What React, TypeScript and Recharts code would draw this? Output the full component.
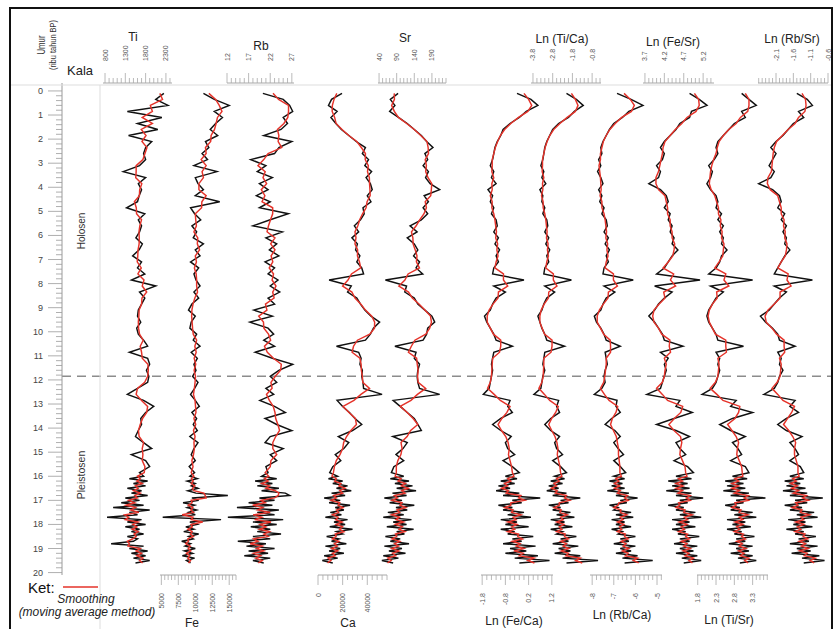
import { LineChart, Line, XAxis, YAxis, ReferenceLine } from "recharts"

const W = 835
const H = 629
const PLOT_TOP = 83
const PLOT_BOTTOM = 575
const AGE_DOMAIN: [number, number] = [-0.33, 20.1]
const BOUNDARY = 11.85
const FONT = "'Liberation Sans', Arial, Helvetica, sans-serif"

// umur (ribu tahun BP)
const AGES = [
  0.1, 0.35, 0.6, 0.85, 1.1, 1.35, 1.6, 1.85,
  2.1, 2.35, 2.6, 2.85, 3.1, 3.35, 3.6, 3.85,
  4.1, 4.35, 4.6, 4.85, 5.1, 5.35, 5.6, 5.85,
  6.1, 6.35, 6.6, 6.85, 7.1, 7.35, 7.6, 7.85,
  8.1, 8.35, 8.6, 8.85, 9.1, 9.35, 9.6, 9.85,
  10.1, 10.35, 10.6, 10.85, 11.1, 11.35, 11.6, 11.85,
  12.1, 12.35, 12.6, 12.85, 13.1, 13.35, 13.6, 13.85,
  14.1, 14.35, 14.6, 14.85, 15.1, 15.35, 15.6, 15.85,
  16.0, 16.1, 16.2, 16.3, 16.4, 16.5, 16.6, 16.7, 16.8, 16.9,
  17.0, 17.1, 17.2, 17.3, 17.4, 17.5, 17.6, 17.7, 17.8, 17.9,
  18.0, 18.1, 18.2, 18.3, 18.4, 18.5, 18.6, 18.7, 18.8, 18.9,
  19.0, 19.1, 19.2, 19.3, 19.4, 19.5, 19.6,
]

const TI = [
  2250, 2050, 2350, 1350, 2200, 1600, 2100, 1380,
  1950, 1800, 1750, 1800, 1650, 1250, 1800, 1620,
  1700, 1640, 1600, 1330, 1780, 1620, 1700, 1650,
  1560, 1720, 1640, 1480, 1700, 1600, 1780, 1450,
  2050, 1650, 1780, 1700, 1620, 1600, 1680, 1580,
  1620, 1750, 1850, 1400, 1850, 1900, 1820, 1880,
  1850, 1600, 1350, 1750, 2000, 1800, 1680, 1700,
  1620, 1550, 1750, 1950, 1450, 1800, 1900, 1650,
  1750, 1400, 1850, 1500, 1800, 1350, 1700, 1450, 1850, 1300,
  1650, 1200, 1750, 1000, 1900, 1400, 1600, 850, 1700, 1350,
  1800, 1300, 1650, 1450, 1750, 1350, 1600, 1500, 950, 1750,
  1400, 1850, 1450, 1800, 1500, 1900, 1550,
]

const FE = [
  11200, 12800, 15000, 12800, 14000, 13000, 12200, 13300,
  11500, 12000, 11000, 11800, 9800, 13200, 10000, 10400,
  11200, 10000, 13600, 9300, 9900, 10800, 9500, 10200,
  9700, 11200, 10000, 10700, 9300, 10500, 9800, 10100,
  10700, 9800, 10500, 9500, 9000, 10000, 9400, 9200,
  10200, 9700, 10700, 9400, 10300, 9800, 10100, 9600,
  10400, 9900, 9300, 10000, 10600, 9500, 10200, 9700,
  10300, 9200, 10400, 9800, 9400, 10000, 9100, 9900,
  9200, 10300, 8800, 10000, 9400, 10400, 8900, 10100, 14800, 9500,
  10500, 8200, 9900, 8800, 10200, 9000, 10000, 5200, 13800, 9200,
  10300, 8600, 9800, 8300, 10500, 9000, 9700, 8000, 9300, 8500,
  10000, 8400, 9600, 8100, 9900, 8700, 9300,
]

const RB = [
  20.3, 25.0, 26.5, 27.2, 25.0, 26.0, 24.5, 20.5,
  27.0, 24.0, 23.0, 17.5, 21.0, 19.0, 22.5, 19.5,
  21.5, 18.8, 22.0, 19.5, 26.2, 22.0, 18.0, 24.8,
  21.0, 23.5, 21.8, 24.0, 20.8, 23.0, 21.5, 23.8,
  22.0, 24.2, 21.5, 23.0, 18.2, 22.5, 17.3, 21.5,
  22.8, 20.5, 23.0, 18.5, 22.5, 27.2, 24.0, 22.0,
  23.5, 21.0, 22.8, 19.6, 23.0, 25.5, 20.8, 23.5,
  27.0, 22.0, 20.8, 25.0, 22.0, 23.5, 21.0, 21.5,
  20.0, 23.5, 18.5, 22.5, 19.0, 24.0, 20.0, 25.5, 26.5, 19.5,
  23.0, 17.0, 22.5, 14.3, 24.0, 19.0, 23.0, 12.2, 25.0, 18.0,
  23.5, 17.5, 22.0, 19.0, 24.5, 18.0, 22.0, 14.5, 21.0, 16.5,
  23.0, 17.0, 21.5, 16.0, 22.0, 18.0, 20.5,
]

const CA = [
  19500, 11000, 8500, 15500, 10500, 14500, 19000, 25000,
  31000, 38500, 36000, 41000, 38000, 43500, 39000, 42500,
  44000, 40000, 43000, 36500, 37500, 34500, 29500, 33000,
  27500, 32000, 30500, 34000, 31500, 35500, 37000, 9000,
  27000, 24000, 31500, 34500, 38000, 43000, 50000, 45000,
  42500, 38500, 15000, 33000, 35000, 34000, 36000, 35500,
  36500, 37000, 52000, 15500, 20000, 25500, 30000, 35500,
  28000, 16500, 25000, 21000, 14000, 18500, 12000, 9500,
  16000, 8500, 20000, 12000, 24000, 15000, 27000, 11000, 22000, 5000,
  18000, 9000, 26000, 14000, 21000, 10000, 19000, 6000, 24000, 13000,
  22000, 9500, 28000, 15000, 20000, 7000, 17000, 11000, 23000, 6000,
  18000, 9000, 21000, 5000, 16000, 3500, 12000,
]

const SR = [
  94, 72, 85, 70, 95, 120, 140, 160,
  175, 193, 170, 178, 165, 180, 172, 185,
  212, 168, 180, 165, 178, 160, 128, 148,
  120, 140, 150, 138, 155, 145, 164, 58,
  118, 113, 140, 150, 170, 190, 198, 178,
  175, 165, 85, 145, 140, 155, 150, 148,
  150, 155, 212, 80, 100, 120, 140, 150,
  160, 79, 120, 108, 88, 110, 82, 75,
  110, 72, 125, 85, 135, 90, 145, 78, 118, 55,
  105, 70, 140, 88, 120, 65, 110, 52, 132, 80,
  118, 62, 138, 90, 112, 58, 100, 72, 125, 55,
  105, 68, 115, 52, 95, 48, 80,
]

const LN_FE_CA = [
  -0.3, 0.3, 0.6, 0.1, -0.2, -0.6, -0.9, -1.0,
  -1.15, -1.25, -1.3, -1.35, -1.45, -1.3, -1.4, -1.2,
  -1.55, -1.35, -1.45, -1.3, -1.4, -1.2, -1.15, -1.3,
  -1.1, -1.25, -1.05, -1.2, -1.1, -1.3, -1.35, 0.0,
  -1.3, -0.8, -1.2, -1.35, -1.45, -1.7, -1.6, -1.45,
  -1.3, -1.2, -0.5, -1.3, -1.35, -1.4, -1.35, -1.4,
  -1.45, -1.5, -1.75, -0.6, -0.7, -0.5, -1.0, -1.35,
  -1.0, -0.55, -0.8, -0.7, -0.4, -0.9, -0.5, -0.2,
  -0.8, -0.3, -1.0, -0.4, -1.1, -0.6, -1.2, -0.2, -0.9, 0.7,
  -0.5, -0.1, -1.1, -0.5, -0.9, 0.0, -0.7, 0.3, -1.0, -0.3,
  -0.8, 0.2, -1.0, -0.4, -0.7, 0.4, -0.5, -0.1, -0.9, 0.5,
  -0.6, 0.1, -0.8, 0.6, -0.4, 1.1, -0.2,
]

const LN_TI_CA = [
  -2.1, -1.6, -1.25, -1.7, -2.0, -2.5, -2.8, -2.95,
  -3.1, -3.2, -3.25, -3.3, -3.4, -3.25, -3.35, -3.15,
  -3.45, -3.3, -3.35, -3.2, -3.3, -3.1, -3.05, -3.2,
  -3.0, -3.15, -2.95, -3.1, -3.0, -3.2, -3.25, -1.85,
  -3.2, -2.7, -3.1, -3.25, -3.35, -3.55, -3.45, -3.35,
  -3.2, -3.1, -2.2, -3.2, -3.25, -3.3, -3.2, -3.3,
  -3.35, -3.4, -3.75, -2.5, -2.6, -2.45, -2.9, -3.2,
  -2.9, -2.45, -2.7, -2.6, -2.3, -2.8, -2.4, -2.1,
  -2.7, -2.2, -2.9, -2.3, -3.0, -2.5, -3.1, -2.1, -2.8, -1.4,
  -2.4, -2.0, -3.0, -2.4, -2.8, -1.9, -2.6, -1.7, -2.9, -2.2,
  -2.7, -1.8, -2.9, -2.3, -2.6, -1.6, -2.4, -2.0, -2.8, -1.5,
  -2.5, -1.9, -2.7, -1.4, -2.3, -0.5, -2.1,
]

const LN_RB_CA = [
  -6.85, -6.2, -5.65, -6.3, -6.6, -7.0, -7.2, -7.35,
  -7.5, -7.6, -7.55, -7.7, -7.6, -7.75, -7.6, -7.5,
  -7.7, -7.55, -7.65, -7.45, -7.55, -7.35, -7.3, -7.45,
  -7.25, -7.4, -7.2, -7.35, -7.25, -7.45, -7.5, -6.1,
  -7.45, -6.95, -7.35, -7.5, -7.6, -7.9, -7.8, -7.6,
  -7.45, -7.35, -6.7, -7.4, -7.35, -7.3, -7.4, -7.45,
  -7.4, -7.55, -7.9, -6.85, -6.9, -6.7, -7.1, -7.4,
  -6.95, -6.7, -7.0, -6.8, -6.55, -7.0, -6.7, -6.45,
  -7.0, -6.5, -7.2, -6.6, -7.1, -6.5, -7.3, -6.3, -6.9, -5.9,
  -6.7, -6.4, -7.2, -6.8, -7.0, -6.2, -6.9, -6.1, -7.1, -6.5,
  -6.9, -6.2, -7.1, -6.6, -6.8, -6.0, -6.7, -6.3, -7.0, -6.0,
  -6.7, -6.2, -6.9, -5.9, -6.6, -5.2, -6.5,
]

const LN_FE_SR = [
  4.85, 5.1, 5.3, 4.9, 4.85, 4.6, 4.5, 4.35,
  4.2, 4.1, 4.2, 4.15, 4.0, 4.1, 4.05, 3.8,
  4.1, 4.25, 4.3, 4.2, 4.35, 4.3, 4.4, 4.35,
  4.45, 4.4, 4.55, 4.4, 4.3, 4.2, 4.0, 5.12,
  3.95, 4.4, 4.2, 4.05, 3.95, 3.8, 3.95, 4.05,
  4.15, 4.2, 4.68, 4.1, 4.3, 4.2, 4.25, 4.2,
  4.15, 4.1, 3.75, 4.6, 4.5, 4.92, 4.45, 4.0,
  4.5, 4.85, 4.5, 4.6, 4.75, 4.45, 4.8, 4.95,
  4.5, 4.9, 4.3, 4.8, 4.4, 4.85, 4.25, 4.9, 4.5, 5.2,
  4.6, 4.8, 4.3, 4.7, 4.5, 5.0, 4.6, 5.15, 4.4, 4.85,
  4.5, 5.0, 4.4, 4.75, 4.55, 5.1, 4.6, 4.85, 4.45, 5.05,
  4.6, 4.95, 4.5, 5.05, 4.65, 5.15, 4.7,
]

const LN_TI_SR = [
  3.0, 3.2, 3.4, 3.0, 3.1, 2.8, 2.65, 2.5,
  2.35, 2.3, 2.35, 2.25, 2.1, 2.2, 2.15, 2.05,
  2.15, 2.3, 2.35, 2.3, 2.45, 2.35, 2.5, 2.4,
  2.5, 2.45, 2.6, 2.45, 2.4, 2.3, 2.1, 3.3,
  2.15, 2.5, 2.3, 2.2, 2.1, 2.05, 2.1, 2.2,
  2.3, 2.35, 3.05, 2.3, 2.4, 2.35, 2.4, 2.35,
  2.3, 2.2, 1.92, 2.85, 2.7, 3.3, 2.75, 2.4,
  2.7, 3.1, 2.75, 2.9, 3.0, 2.7, 3.1, 3.2,
  2.75, 3.15, 2.55, 3.05, 2.6, 3.1, 2.5, 3.2, 2.7, 3.65,
  2.85, 3.05, 2.55, 2.95, 2.7, 3.3, 2.8, 3.4, 2.6, 3.1,
  2.75, 3.25, 2.6, 3.0, 2.8, 3.35, 2.85, 3.1, 2.65, 3.3,
  2.85, 3.2, 2.7, 3.3, 2.9, 3.4, 2.95,
]

const LN_RB_SR = [
  -1.5, -1.2, -1.05, -1.45, -1.3, -1.6, -1.75, -1.9,
  -2.1, -2.25, -2.1, -2.2, -2.3, -2.15, -2.25, -2.6,
  -2.2, -2.0, -1.95, -2.05, -1.85, -1.95, -1.8, -1.9,
  -1.8, -1.85, -1.7, -1.85, -1.95, -2.05, -2.15, -1.05,
  -2.15, -1.8, -2.0, -2.15, -2.3, -2.55, -2.4, -2.2,
  -2.05, -2.0, -1.55, -2.05, -1.95, -2.0, -1.9, -2.0,
  -2.05, -2.15, -2.45, -1.55, -1.7, -1.45, -1.8, -2.05,
  -1.8, -1.35, -1.7, -1.55, -1.45, -1.7, -1.4, -1.3,
  -1.7, -1.3, -1.85, -1.4, -1.8, -1.25, -1.9, -1.2, -1.7, -0.75,
  -1.55, -1.2, -1.85, -1.35, -1.7, -1.0, -1.5, -0.9, -1.75, -1.25,
  -1.6, -1.05, -1.8, -1.3, -1.55, -0.95, -1.45, -1.15, -1.7, -0.9,
  -1.5, -1.1, -1.65, -0.85, -1.35, -0.7, -1.3,
]

const range = (start: number, stop: number, step: number) => {
  const out: number[] = []
  const n = Math.round((stop - start) / step)
  for (let i = 0; i <= n; i++) out.push(+(start + i * step).toFixed(4))
  return out
}

// moving average, same as the red "smoothing" curve
const smooth = (vals: number[]) =>
  vals.map((_, i) => {
    const win = vals.slice(Math.max(0, i - 1), i + 2)
    return win.reduce((a, b) => a + b, 0) / win.length
  })

type Panel = {
  key: string
  values: number[]
  domain: [number, number]
  left: number
  right: number
  side: "top" | "bottom"
  ticks: number[]
  labels: number[]
}

const PANELS: Panel[] = [
  { key: "ti", values: TI, domain: [750, 2450], left: 103, right: 172, side: "top", ticks: range(800, 2400, 100), labels: [800, 1300, 1800, 2300] },
  { key: "fe", values: FE, domain: [4800, 16000], left: 160, right: 236, side: "bottom", ticks: range(5000, 16000, 500), labels: [5000, 7500, 10000, 12500, 15000] },
  { key: "rb", values: RB, domain: [12, 27.5], left: 227, right: 294, side: "top", ticks: range(12, 27, 1), labels: [12, 17, 22, 27] },
  { key: "ca", values: CA, domain: [0, 56000], left: 318, right: 387, side: "bottom", ticks: range(0, 56000, 4000), labels: [0, 20000, 40000] },
  { key: "sr", values: SR, domain: [37, 230], left: 378, right: 446, side: "top", ticks: range(40, 230, 10), labels: [40, 90, 140, 190] },
  { key: "feca", values: LN_FE_CA, domain: [-1.85, 1.25], left: 481, right: 553, side: "bottom", ticks: range(-1.8, 1.2, 0.2), labels: [-1.8, -0.8, 0.2, 1.2] },
  { key: "tica", values: LN_TI_CA, domain: [-3.9, -0.35], left: 531, right: 601, side: "top", ticks: range(-3.8, -0.4, 0.2), labels: [-3.8, -2.8, -1.8, -0.8] },
  { key: "rbca", values: LN_RB_CA, domain: [-8.1, -4.77], left: 590, right: 662, side: "bottom", ticks: range(-8, -4.8, 0.2), labels: [-8, -7, -6, -5] },
  { key: "fesr", values: LN_FE_SR, domain: [3.65, 5.48], left: 643, right: 714, side: "top", ticks: range(3.7, 5.4, 0.1), labels: [3.7, 4.2, 4.7, 5.2] },
  { key: "tisr", values: LN_TI_SR, domain: [1.78, 3.72], left: 697, right: 768, side: "bottom", ticks: range(1.8, 3.7, 0.1), labels: [1.8, 2.3, 2.8, 3.3] },
  { key: "rbsr", values: LN_RB_SR, domain: [-2.62, -0.6], left: 758, right: 828, side: "top", ticks: range(-2.6, -0.6, 0.1), labels: [-2.1, -1.6, -1.1, -0.6] },
]

const TITLES = [
  { text: "Ti", x: 133, y: 41 },
  { text: "Rb", x: 261, y: 50 },
  { text: "Sr", x: 405, y: 42 },
  { text: "Ln (Ti/Ca)", x: 562, y: 43 },
  { text: "Ln (Fe/Sr)", x: 673, y: 46 },
  { text: "Ln (Rb/Sr)", x: 792, y: 43 },
  { text: "Fe", x: 192, y: 627 },
  { text: "Ca", x: 348, y: 627 },
  { text: "Ln (Fe/Ca)", x: 514, y: 625 },
  { text: "Ln (Rb/Ca)", x: 622, y: 619 },
  { text: "Ln (Ti/Sr)", x: 729, y: 624 },
]

const AGE_TICKS = range(0, 20, 0.2)

const SMOOTHED: Record<string, number[]> = {}
PANELS.forEach((p) => (SMOOTHED[p.key] = smooth(p.values)))

const ROWS = AGES.map((age, i) => {
  const row: Record<string, number> = { age }
  PANELS.forEach((p) => {
    row[p.key] = p.values[i]
    row[p.key + "S"] = SMOOTHED[p.key][i]
  })
  return row
})

function ScaleTick({ x, y, payload, labels, side }: any) {
  const v = payload.value
  const major = labels.some((l: number) => Math.abs(l - v) < 1e-6)
  const dir = side === "top" ? -1 : 1
  const len = major ? 10 : 5
  return (
    <g>
      <line x1={x} x2={x} y1={y} y2={y + dir * len} stroke="#a8a8a8" strokeWidth={0.8} />
      {major && (
        <text
          transform={`translate(${x + 2.5},${side === "top" ? y - 22 : y + 18}) rotate(-90)`}
          textAnchor={side === "top" ? "start" : "end"}
          fontSize={7}
          fill="#555"
          fontFamily={FONT}
        >
          {String(v)}
        </text>
      )}
    </g>
  )
}

function AgeTick({ x, y, payload }: any) {
  const v = payload.value
  const major = Math.abs(v - Math.round(v)) < 1e-6
  return (
    <g>
      <line x1={x} x2={x - (major ? 14 : 6)} y1={y} y2={y} stroke="#9a9a9a" strokeWidth={0.8} />
      {major && (
        <text x={x - 19} y={y + 3} textAnchor="end" fontSize={9} fill="#444" fontFamily={FONT}>
          {Math.round(v)}
        </text>
      )}
    </g>
  )
}

const PAD = 8
const AXIS_H = 30

function ProxyPanel({ p }: { p: Panel }) {
  const top = p.side === "top"
  return (
    <div style={{ position: "absolute", left: p.left - PAD, top: 0 }}>
      <LineChart
        layout="vertical"
        width={p.right - p.left + 2 * PAD}
        height={H}
        data={ROWS}
        margin={{
          left: PAD,
          right: PAD,
          top: top ? PLOT_TOP - AXIS_H : PLOT_TOP,
          bottom: top ? H - PLOT_BOTTOM : H - PLOT_BOTTOM - AXIS_H,
        }}
      >
        <XAxis
          type="number"
          orientation={p.side}
          height={AXIS_H}
          domain={p.domain}
          ticks={p.ticks}
          interval={0}
          tickSize={0}
          tickMargin={0}
          tickLine={false}
          axisLine={{ stroke: "#a8a8a8" }}
          tick={(t: any) => <ScaleTick {...t} labels={p.labels} side={p.side} />}
        />
        <YAxis type="number" dataKey="age" domain={AGE_DOMAIN} hide />
        <Line dataKey={p.key} stroke="#111" strokeWidth={1.45} dot={false} isAnimationActive={false} />
        <Line dataKey={p.key + "S"} stroke="#e5332a" strokeWidth={1.45} dot={false} isAnimationActive={false} />
      </LineChart>
    </div>
  )
}

function AgeFrame() {
  return (
    <div style={{ position: "absolute", left: 0, top: 0 }}>
      <LineChart
        layout="vertical"
        width={W}
        height={H}
        data={ROWS}
        margin={{ left: 10, right: 2, top: PLOT_TOP, bottom: H - PLOT_BOTTOM }}
      >
        <XAxis type="number" hide />
        <YAxis
          type="number"
          dataKey="age"
          domain={AGE_DOMAIN}
          width={52}
          ticks={AGE_TICKS}
          interval={0}
          tickSize={0}
          tickMargin={0}
          tickLine={false}
          axisLine={{ stroke: "#9a9a9a" }}
          tick={(t: any) => <AgeTick {...t} />}
        />
        {/* carrier series so the frame has an x scale; drawn invisibly */}
        <Line dataKey="ti" stroke="transparent" dot={false} activeDot={false} isAnimationActive={false} />
        <ReferenceLine y={BOUNDARY} stroke="#8c8c8c" strokeWidth={1.6} strokeDasharray="9 6" />
      </LineChart>
    </div>
  )
}

export default function App() {
  return (
    <div
      style={{
        position: "absolute",
        left: 0,
        top: 0,
        width: W,
        height: H,
        overflow: "hidden",
        background: "#fff",
        fontFamily: FONT,
      }}
    >
      <AgeFrame />
      {PANELS.map((p) => (
        <ProxyPanel key={p.key} p={p} />
      ))}
      <svg width={W} height={H} style={{ position: "absolute", left: 0, top: 0, pointerEvents: "none" }} fontFamily={FONT}>
        <line x1={10} x2={833} y1={85} y2={85} stroke="#dddddd" strokeWidth={1} />
        <line x1={100} x2={100} y1={85} y2={H} stroke="#dddddd" strokeWidth={1} />
        <text
          transform="translate(45,45) rotate(-90)"
          textAnchor="middle"
          fontSize={10}
          textLength={19}
          lengthAdjust="spacingAndGlyphs"
          fill="#333"
        >
          Umur
        </text>
        <text
          transform="translate(56,45) rotate(-90)"
          textAnchor="middle"
          fontSize={8.5}
          textLength={50}
          lengthAdjust="spacingAndGlyphs"
          fill="#333"
        >
          (ribu tahun BP)
        </text>
        <text x={67} y={75} fontSize={13} fill="#222">
          Kala
        </text>
        <text transform="translate(85,231) rotate(-90)" textAnchor="middle" fontSize={10} fill="#333">
          Holosen
        </text>
        <text transform="translate(85,475) rotate(-90)" textAnchor="middle" fontSize={10.5} fill="#333">
          Pleistosen
        </text>
        {TITLES.map((t) => (
          <text key={t.text} x={t.x} y={t.y} textAnchor="middle" fontSize={12} fill="#222">
            {t.text}
          </text>
        ))}
        <text x={28} y={593} fontSize={15} fill="#111">
          Ket:
        </text>
        <line x1={63} x2={98} y1={587} y2={587} stroke="#e5332a" strokeWidth={1.6} />
        <text x={86} y={603} textAnchor="middle" fontSize={12} fontStyle="italic" fill="#222">
          Smoothing
        </text>
        <text x={87} y={616} textAnchor="middle" fontSize={12} fontStyle="italic" fill="#222">
          (moving average method)
        </text>
      </svg>
      <div
        style={{
          position: "absolute",
          left: 9,
          top: 7,
          width: 824,
          height: 640,
          border: "2px solid #111",
          boxSizing: "border-box",
        }}
      />
    </div>
  )
}
